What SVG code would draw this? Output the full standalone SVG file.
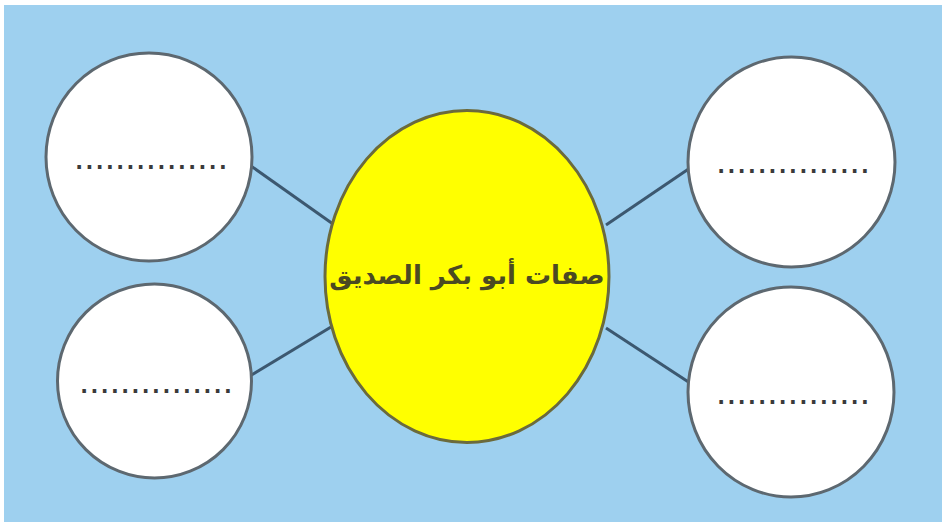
<svg xmlns="http://www.w3.org/2000/svg" width="942" height="522" viewBox="0 0 942 522">
<style>
.bubble{fill:#ffffff;stroke:#5d6870;stroke-width:3}
.dots{font-family:"Liberation Sans",Arial,sans-serif;font-size:37px;fill:#3a3a3a;text-anchor:middle}
.link{stroke:#3c5870;stroke-width:3;fill:none}
</style>
<rect x="0" y="0" width="942" height="522" fill="#ffffff"/>
<rect x="4" y="5" width="938" height="517" fill="#9ed0ef"/>
<g id="connectors">
<line class="link" x1="251" y1="166" x2="333" y2="224"/>
<line class="link" x1="331" y1="327" x2="250" y2="376"/>
<line class="link" x1="606" y1="225" x2="690" y2="168"/>
<line class="link" x1="606" y1="328" x2="690" y2="383"/>
</g>
<g id="center">
<ellipse cx="467" cy="276.5" rx="142" ry="166" fill="#ffff00" stroke="#6b6a3c" stroke-width="3"/>
<text x="467" y="284" font-family="'DejaVu Sans',sans-serif" font-weight="bold" font-size="26" fill="#4b4a22" text-anchor="middle" direction="rtl">صفات أبو بكر الصديق</text>
</g>
<g id="node-top-left">
<ellipse class="bubble" cx="149" cy="157" rx="103" ry="104"/>
<text class="dots" x="151" y="169">...............</text>
</g>
<g id="node-bottom-left">
<ellipse class="bubble" cx="154.5" cy="381" rx="97" ry="97"/>
<text class="dots" x="156" y="393">...............</text>
</g>
<g id="node-top-right">
<ellipse class="bubble" cx="791.5" cy="162" rx="103.5" ry="105"/>
<text class="dots" x="793" y="173">...............</text>
</g>
<g id="node-bottom-right">
<ellipse class="bubble" cx="791" cy="392" rx="103" ry="105"/>
<text class="dots" x="793" y="404">...............</text>
</g>
</svg>
